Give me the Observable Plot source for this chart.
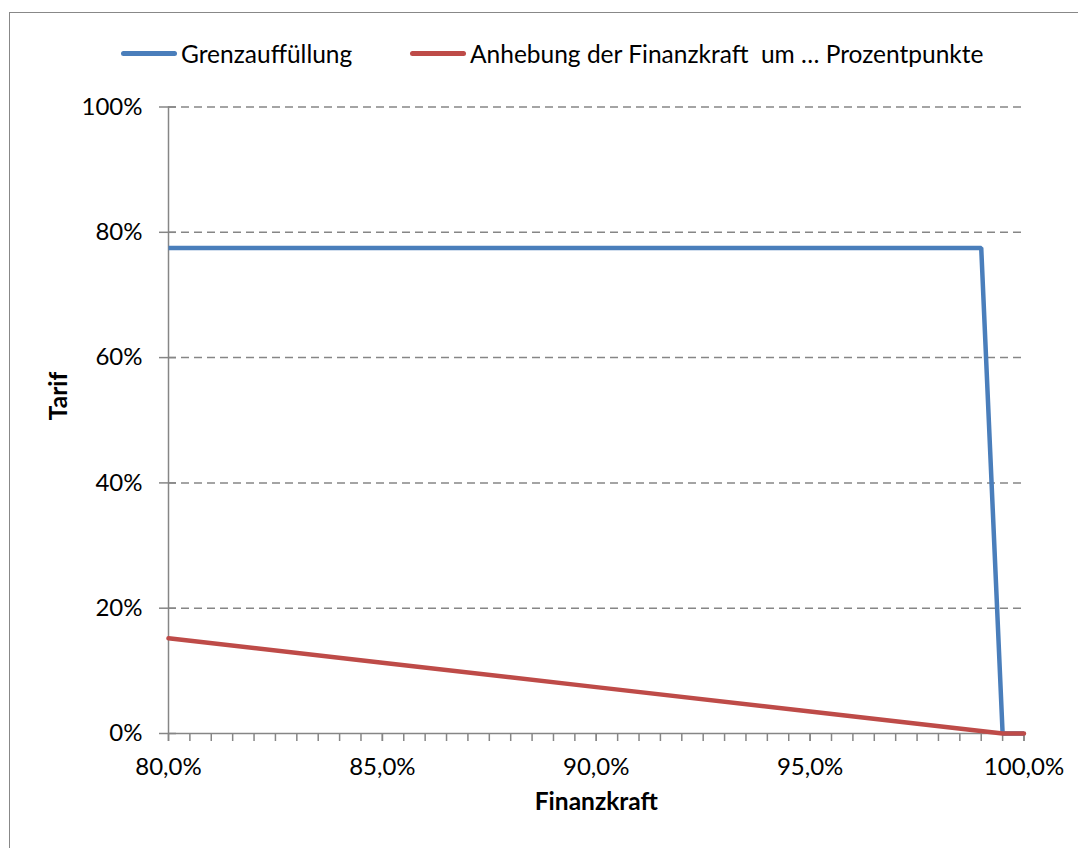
<!DOCTYPE html>
<html>
<head>
<meta charset="utf-8">
<script src="https://cdn.jsdelivr.net/npm/d3@7"></script>
<script src="https://cdn.jsdelivr.net/npm/@observablehq/plot@0.6"></script>
<style>
  html, body { margin: 0; padding: 0; background: #fff; }
  #wrap { position: relative; width: 1078px; height: 848px; overflow: hidden; font-family: Lato, "Open Sans", sans-serif; }
  #frame { position: absolute; left: 9px; top: 12px; width: 2000px; height: 2000px; border-left: 1.5px solid #888; border-top: 1.5px solid #888; box-sizing: border-box; }
  #legend { position: absolute; left: 0; top: 0; width: 1078px; height: 90px; }
  .item { position: absolute; top: 36px; height: 34px; display: flex; align-items: center; font-size: 24.5px; color: #000; white-space: pre; }
  .sw { display: inline-block; width: 56px; height: 5px; border-radius: 3px; margin-right: 4px; }
  #chart { position: absolute; left: 0; top: 90px; }
</style>
</head>
<body>
<div id="wrap">
  <div id="frame"></div>
  <div id="legend"></div>
  <div id="chart"></div>
</div>
<script>
// Series names and colours
const seriesNames = ["Grenzauffüllung", "Anhebung der Finanzkraft  um … Prozentpunkte"];
const seriesColors = ["#4a7ebb", "#be4b48"];

// Grenzauffüllung (x: Finanzkraft %, y: Tarif %)
const blueX = [80, 99.0, 99.5, 100];
const blueY = [77.5, 77.5, 0, 0];

// Anhebung der Finanzkraft um ... Prozentpunkte
const redX = [80, 85, 90, 95, 99.5, 100];
const redY = [15.2, 11.3, 7.4, 3.5, 0, 0];

// Axis ticks
const yTicks = [0, 20, 40, 60, 80, 100];
const xMajorTicks = [80, 85, 90, 95, 100];
const xMinorTicks = d3.range(80, 100.001, 0.5);

const blue = blueX.map((x, i) => ({x, y: blueY[i]}));
const red = redX.map((x, i) => ({x, y: redY[i]}));

// Legend
const legend = document.getElementById("legend");
const legendPos = [121, 410];
seriesNames.forEach((name, i) => {
  const it = document.createElement("div");
  it.className = "item";
  it.style.left = legendPos[i] + "px";
  const sw = document.createElement("span");
  sw.className = "sw";
  sw.style.background = seriesColors[i];
  it.appendChild(sw);
  it.appendChild(document.createTextNode(name));
  legend.appendChild(it);
});

const axisColor = "#868686";
const fmtX = d => d.toFixed(1).replace(".", ",") + "%";

const plot = Plot.plot({
  width: 1078,
  height: 758,
  marginLeft: 168,
  marginRight: 54.5,
  marginTop: 16.5,
  marginBottom: 115,
  style: { fontFamily: "Lato, 'Open Sans', sans-serif", fontSize: "24px", color: "#000", background: "transparent", overflow: "visible" },
  x: { domain: [80, 100] },
  y: { domain: [0, 100] },
  marks: [
    Plot.ruleY(yTicks.filter(d => d > 0), { stroke: axisColor, strokeWidth: 1.5, strokeDasharray: "8,5" }),
    Plot.ruleX([80], { stroke: axisColor, strokeWidth: 1.5 }),
    Plot.ruleY([0], { stroke: axisColor, strokeWidth: 1.5 }),
    Plot.axisY({ ticks: yTicks, tickFormat: d => d + "%", tickSize: 9, tickPadding: 17, stroke: axisColor, strokeWidth: 1.5, fill: "#000", fontSize: 24, label: null }),
    Plot.axisY({ ticks: yTicks, tickSize: -8, text: null, stroke: axisColor, strokeWidth: 1.5, label: null }),
    Plot.axisX({ ticks: xMinorTicks, tickSize: 8, text: null, stroke: axisColor, strokeWidth: 1.5, label: null }),
    Plot.axisX({ ticks: xMajorTicks, tickFormat: fmtX, tickSize: 8, tickPadding: 16, stroke: axisColor, strokeWidth: 1.5, fill: "#000", fontSize: 24, label: null }),
    Plot.line(blue, { x: "x", y: "y", stroke: seriesColors[0], strokeWidth: 4.5, strokeLinecap: "butt", strokeLinejoin: "miter" }),
    Plot.line(red, { x: "x", y: "y", stroke: seriesColors[1], strokeWidth: 4.5, strokeLinecap: "round", strokeLinejoin: "round" }),
    Plot.text(["Tarif"], { frameAnchor: "left", dx: -109, rotate: -90, text: d => d, fontWeight: "bold", fontSize: 24.5, fill: "#000" }),
    Plot.text(["Finanzkraft"], { frameAnchor: "bottom", dy: 76, text: d => d, fontWeight: "bold", fontSize: 24.5, fill: "#000" })
  ]
});
document.getElementById("chart").appendChild(plot);
</script>
</body>
</html>
